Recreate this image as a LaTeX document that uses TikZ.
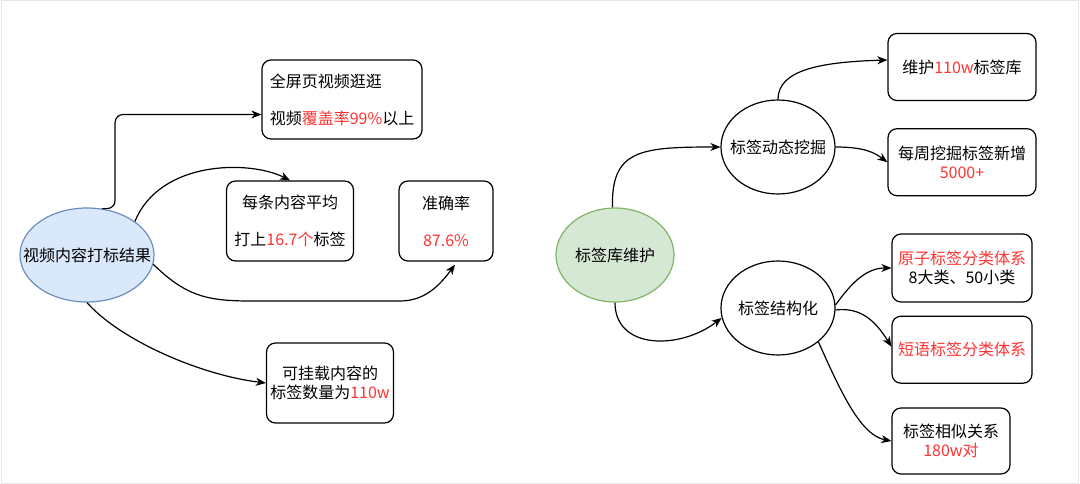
\documentclass[tikz,border=0pt]{standalone}
\usepackage{fontspec}
\setmainfont{Noto Sans CJK SC}
\usetikzlibrary{arrows.meta,positioning,shapes.geometric}
\definecolor{hot}{RGB}{255,51,51}
\definecolor{bluefill}{RGB}{218,232,252}
\definecolor{blueline}{RGB}{108,142,191}
\definecolor{greenfill}{RGB}{213,232,212}
\definecolor{greenline}{RGB}{130,179,102}
\definecolor{framegray}{RGB}{232,232,232}
\newcommand{\redtxt}[1]{\textcolor{hot}{#1}}
\newcommand{\ctr}[1]{\makebox[0pt]{#1}}

\begin{document}
\begin{tikzpicture}[
      x=1pt,y=-1pt,
      box/.style={draw,rounded corners=9pt,line width=1.2pt,
        inner sep=0pt,align=center,
        font=\fontsize{16}{19}\selectfont},
      oval/.style={ellipse,draw,line width=1.2pt,inner sep=0pt,
        font=\fontsize{16}{19}\selectfont},
      arr/.style={-{Stealth[length=10pt,width=8pt,inset=3pt]},
        line width=1.2pt}
    ]
      \useasboundingbox (0,0) rectangle (1080,484);
      \draw[framegray,line width=1pt] (1,1) rectangle (1078,483);

      % left: tagging results
      \node[oval,fill=bluefill,draw=blueline,
        minimum width=134pt,minimum height=94pt] (res) at (87,255)
        {\ctr{视频内容打标结果}};
      \node[box,align=left,minimum width=160pt,minimum height=79pt]
        (cover) at (342,99.5)
        {全屏页视频逛逛\\[18pt]视频\redtxt{覆盖率99\%}以上};
      \node[box,minimum width=127pt,minimum height=80pt]
        (avg) at (290,221)
        {每条内容平均\\[18pt]打上\redtxt{16.7个}标签};
      \node[box,minimum width=94pt,minimum height=80pt]
        (acc) at (446,221)
        {准确率\\[18pt]\redtxt{87.6\%}};
      \node[box,minimum width=127pt,minimum height=80pt]
        (lib) at (330,383)
        {可挂载内容的\\标签数量为\redtxt{110w}};

      \draw[arr,rounded corners=8pt] (res.72) -- ++(13,0)
        |- ([yshift=-15pt]cover.west);
      \draw[arr] (res.35) .. controls (160,160) and (250,160) .. (avg.north);
      \draw[arr] (res.-8) .. controls (185,295) and (205,301) .. (250,301)
        -- (400,301) .. controls (425,301) and (440,285)
        .. ([xshift=9pt,yshift=-3pt]acc.south);
      \draw[arr] (res.south) .. controls (120,340) and (200,375) .. (lib.west);

      % right: tag library upkeep
      \node[oval,fill=greenfill,draw=greenline,
        minimum width=118pt,minimum height=94pt] (maint) at (615,255)
        {\ctr{标签库维护}};
      \node[oval,minimum width=114pt,minimum height=94pt]
        (mine) at (778,147) {\ctr{标签动态挖掘}};
      \node[oval,minimum width=114pt,minimum height=94pt]
        (struct) at (778,308) {\ctr{标签结构化}};

      \node[box,minimum width=148pt,minimum height=67pt]
        (base) at (962,67) {维护\redtxt{110w}标签库};
      \node[box,minimum width=148pt,minimum height=67pt,
        below=27pt of base] (weekly)
        {每周挖掘标签新增\\\redtxt{5000+}};
      \node[box,minimum width=140pt,minimum height=68pt]
        (atom) at (962,268)
        {\redtxt{原子标签分类体系}\\8大类、50小类};
      \node[box,minimum width=140pt,minimum height=67pt,
        below=13pt of atom] (phrase)
        {\redtxt{短语标签分类体系}};
      \node[box,minimum width=118pt,minimum height=66pt]
        (sim) at (951,441)
        {标签相似关系\\\redtxt{180w对}};

      \draw[arr] (maint.93) .. controls (611,150) and (640,147) .. (mine.west);
      \draw[arr] (maint.south) .. controls (615,350) and (680,350) .. (struct.190);
      \draw[arr] (mine.north) .. controls (778,70) and (820,62)
        .. ([yshift=7pt]base.west);
      \draw[arr] (mine.east) .. controls (865,147) and (875,153) .. (weekly.west);
      \draw[arr] (struct.3) .. controls (850,285) and (865,268) .. (atom.west);
      \draw[arr] (struct.-2) .. controls (860,307) and (875,320)
        .. ([yshift=3pt]phrase.west);
      \draw[arr] (struct.-40) .. controls (840,390) and (860,435) .. (sim.west);
    \end{tikzpicture}
\end{document}
